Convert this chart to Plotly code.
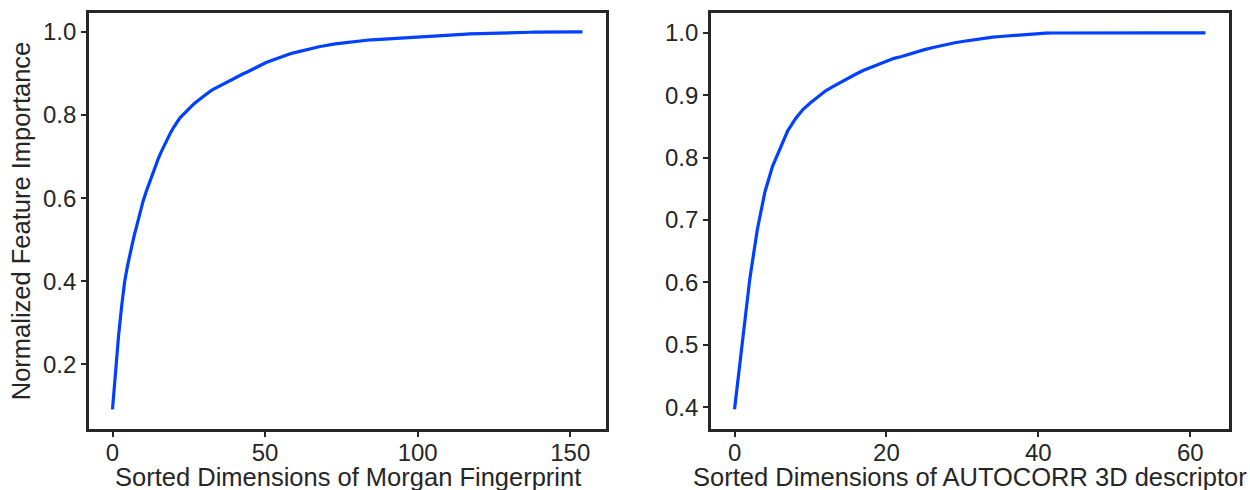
import plotly.graph_objects as go

# Left panel: Morgan fingerprint (155 sorted dimensions)
morgan_idx = list(range(155))
morgan_vals = [
    0.092, 0.19, 0.27, 0.34, 0.40, 0.44, 0.475, 0.507, 0.535, 0.565,
    0.592, 0.615, 0.636, 0.657, 0.677, 0.695, 0.712, 0.728, 0.743, 0.757,
    0.770, 0.782, 0.792, 0.800, 0.808, 0.815, 0.822, 0.829, 0.835, 0.841,
    0.847, 0.852, 0.857, 0.862, 0.866, 0.870, 0.874, 0.878, 0.882, 0.885,
    0.889, 0.893, 0.896, 0.900, 0.903, 0.907, 0.910, 0.914, 0.917, 0.921,
    0.925, 0.928, 0.931, 0.934, 0.937, 0.940, 0.942, 0.945, 0.947, 0.949,
    0.951, 0.953, 0.955, 0.957, 0.959, 0.960, 0.962, 0.963, 0.965, 0.966,
    0.968, 0.969, 0.970, 0.971, 0.972, 0.973, 0.974, 0.975, 0.976, 0.977,
    0.978, 0.979, 0.9795, 0.980, 0.9805, 0.981, 0.9815, 0.982, 0.9825, 0.983,
    0.9835, 0.984, 0.9845, 0.985, 0.9855, 0.986, 0.9865, 0.987, 0.9875, 0.988,
    0.9885, 0.989, 0.9895, 0.990, 0.9904, 0.9908, 0.9912, 0.9916, 0.992, 0.9924,
    0.9928, 0.9932, 0.9936, 0.994, 0.9943, 0.9946, 0.9949, 0.9952, 0.9955, 0.9958,
    0.996, 0.9962, 0.9964, 0.9966, 0.9968, 0.997, 0.9972, 0.9974, 0.9976, 0.9978,
    0.998, 0.9982, 0.9984, 0.9986, 0.9988, 0.999, 0.9991, 0.9992, 0.9993, 0.9994,
    0.9995, 0.9996, 0.9997, 0.9997, 0.9998, 0.9998, 0.9999, 0.9999, 0.9999, 1.0,
    1.0, 1.0, 1.0, 1.0, 1.0,
]

# Right panel: AUTOCORR 3D descriptor (63 sorted dimensions)
autocorr_idx = list(range(63))
autocorr_vals = [
    0.397, 0.50, 0.605, 0.685, 0.745, 0.786, 0.815, 0.843, 0.862, 0.877,
    0.888, 0.898, 0.907, 0.914, 0.921, 0.928, 0.934, 0.940, 0.945, 0.950,
    0.955, 0.959, 0.962, 0.966, 0.970, 0.973, 0.976, 0.979, 0.982, 0.984,
    0.986, 0.988, 0.990, 0.992, 0.993, 0.994, 0.995, 0.996, 0.997, 0.998,
    0.999, 0.9995, 0.9997, 0.9998, 0.9999, 0.9999, 1.0, 1.0, 1.0, 1.0,
    1.0, 1.0, 1.0, 1.0, 1.0, 1.0, 1.0, 1.0, 1.0, 1.0,
    1.0, 1.0, 1.0,
]

left_yticks = [0.2, 0.4, 0.6, 0.8, 1.0]
left_xticks = [0, 50, 100, 150]
right_yticks = [0.4, 0.5, 0.6, 0.7, 0.8, 0.9, 1.0]
right_xticks = [0, 20, 40, 60]

left_xtitle = "Sorted Dimensions of Morgan Fingerprint"
right_xtitle = "Sorted Dimensions of AUTOCORR 3D descriptor"
ytitle = "Normalized Feature Importance"

LINE_BLUE = "#0040ff"
INK = "#262626"
FONT = "Liberation Sans, Arial, sans-serif"
TICK_SIZE = 24
TITLE_SIZE = 25.5
W, H = 1250, 490

left_dom = [89 / W, 606 / W]
right_dom = [711 / W, 1229 / W]
y_dom = [1 - 429 / H, 1 - 13 / H]

fig = go.Figure()
fig.add_trace(go.Scatter(x=morgan_idx, y=morgan_vals, mode="lines",
                         line=dict(color=LINE_BLUE, width=3.2), xaxis="x", yaxis="y",
                         showlegend=False))
fig.add_trace(go.Scatter(x=autocorr_idx, y=autocorr_vals, mode="lines",
                         line=dict(color=LINE_BLUE, width=3.2), xaxis="x2", yaxis="y2",
                         showlegend=False))

ax_common = dict(showline=True, mirror=True, linewidth=2.7, linecolor=INK,
                 ticks="outside", ticklen=5, tickwidth=2, tickcolor=INK,
                 showgrid=False, zeroline=False,
                 tickfont=dict(family=FONT, size=TICK_SIZE, color=INK))

title_font = dict(family=FONT, size=TITLE_SIZE, color=INK)

fig.update_layout(
    width=W, height=H,
    margin=dict(l=0, r=0, t=0, b=0),
    paper_bgcolor="white", plot_bgcolor="white",
    font=dict(family=FONT, color=INK),
    xaxis=dict(domain=left_dom, range=[-7.7, 161.7],
               tickvals=left_xticks, anchor="y", ticklabelstandoff=-5, **ax_common),
    yaxis=dict(domain=y_dom, range=[0.0445, 1.0455],
               tickvals=left_yticks, tickformat=".1f", anchor="x",
               title=dict(text=ytitle, font=title_font, standoff=6),
               **ax_common),
    xaxis2=dict(domain=right_dom, range=[-3.1, 65.1],
                tickvals=right_xticks, anchor="y2", ticklabelstandoff=-5, **ax_common),
    yaxis2=dict(domain=y_dom, range=[0.3653, 1.0317],
                tickvals=right_yticks, tickformat=".1f", anchor="x2",
                **ax_common),
    annotations=[
        dict(text=left_xtitle, xref="paper", yref="paper",
             x=(left_dom[0] + left_dom[1]) / 2, y=1 - 477 / H,
             xanchor="center", yanchor="middle", showarrow=False, font=title_font),
        dict(text=right_xtitle, xref="paper", yref="paper",
             x=(right_dom[0] + right_dom[1]) / 2, y=1 - 477 / H,
             xanchor="center", yanchor="middle", showarrow=False, font=title_font),
    ],
)

fig.write_html("out.html", config={"displayModeBar": False},
               post_script="document.body.style.margin='0px';")
